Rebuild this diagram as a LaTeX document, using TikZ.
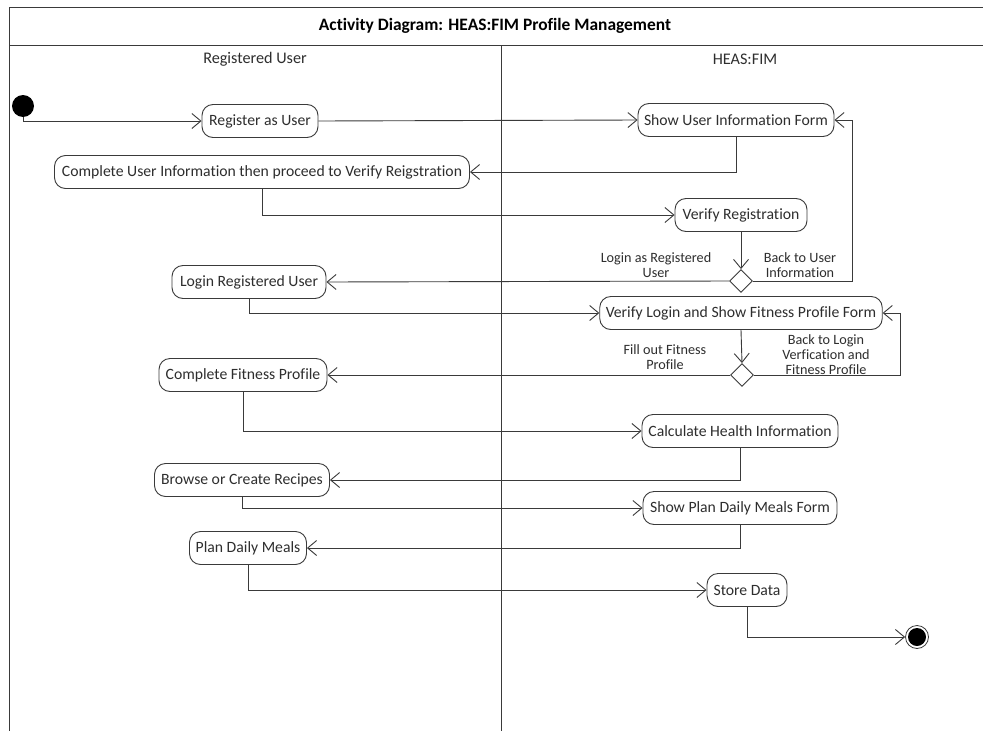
\documentclass[tikz,border=0pt]{standalone}
\usepackage{fontspec}
\setmainfont[Ligatures={NoCommon}]{Carlito}
\usetikzlibrary{arrows.meta,shapes.geometric}
\definecolor{ln}{HTML}{3A3A3A}
\definecolor{tx}{HTML}{2E2E2E}
\tikzset{
  act/.style={draw=ln, line width=0.9pt, rounded corners=11pt, minimum height=33pt,
    inner xsep=6pt, inner ysep=0pt, text=tx, font=\fontsize{15.7}{18}\selectfont, fill=white},
  dec/.style={draw=ln, line width=0.9pt, diamond, minimum width=23pt, minimum height=23pt,
    inner sep=0pt, fill=white},
  flow/.style={draw=ln, line width=0.9pt, -{Straight Barb[length=9pt,width=15pt,line width=0.9pt]}},
  guard/.style={text=tx, align=center, font=\fontsize{14.2}{15}\selectfont, inner sep=0pt},
  lane/.style={text=tx, font=\fontsize{16.2}{18}\selectfont},
  frameline/.style={draw=ln, line width=1pt}
}
\begin{document}
\begin{tikzpicture}[x=1pt,y=-1pt]
\useasboundingbox (0,0) rectangle (983,731);
\fill[white] (0,0) rectangle (983,731);
% frame
\draw[frameline] (983,7) -- (9,7) -- (9,731);
\draw[frameline] (9,45) -- (983,45);
\draw[frameline] (501,45) -- (501,731);
\node[text=black, font=\bfseries\fontsize{17.4}{19}\selectfont] (title) at (495,26) {Activity Diagram: HEAS:FIM Profile Management};
\node[lane] (laneA) at (255,59) {Registered User};
\node[lane] (laneB) at (745,59) {HEAS:FIM};
% start / end
\node[circle, fill=black, minimum size=22pt, inner sep=0pt] (start) at (23,106) {};
\node[circle, draw=ln, line width=0.8pt, minimum size=23pt, inner sep=0pt] (fin) at (917,637) {};
\fill[black] (fin.center) circle (9pt);
% activities
\node[act, minimum width=116pt] (reg) at (260,121) {Register as User};
\node[act, minimum width=196pt] (sui) at (736,120) {Show User Information Form};
\node[act, minimum width=415pt] (cui) at (262,172) {Complete User Information then proceed to Verify Reigstration};
\node[act, minimum width=132pt] (vr) at (741,215) {Verify Registration};
\node[dec] (d1) at (741,281) {};
\node[act, minimum width=154pt] (lru) at (249,282) {Login Registered User};
\node[act, minimum width=282pt] (vl) at (741,313) {Verify Login and Show Fitness Profile Form};
\node[dec] (d2) at (742,375) {};
\node[act, minimum width=168pt] (cfp) at (243,375) {Complete Fitness Profile};
\node[act, minimum width=196pt] (chi) at (740,431) {Calculate Health Information};
\node[act, minimum width=175pt] (bcr) at (242,480) {Browse or Create Recipes};
\node[act, minimum width=194pt] (spd) at (740,508) {Show Plan Daily Meals Form};
\node[act, minimum width=117pt] (pdm) at (248,548) {Plan Daily Meals};
\node[act, minimum width=80pt] (sd) at (747,590) {Store Data};
% guards
\node[guard] (g1) at (656,265) {Login as Registered\\User};
\node[guard] (g2) at (800,265) {Back to User\\Information};
\node[guard] (g3) at (665,357) {Fill out Fitness\\Profile};
\node[guard] (g4) at (826,355) {Back to Login\\Verfication and\\Fitness Profile};
% helper corners
\coordinate (c1) at (852,281);
\coordinate (c2) at (900,375);
% flows
\draw[flow] (start.south) |- (reg.west);
\draw[flow] (reg.east) -- (sui.west);
\draw[flow] (sui.south) |- (cui.east);
\draw[flow] (cui.south) |- (vr.west);
\draw[flow] (vr.south) -- (d1.north);
\draw[flow] (d1.west) -- (lru.east);
\draw[flow] (d1.east) -- (c1) |- (sui.east);
\draw[flow] (lru.south) |- (vl.west);
\draw[flow] (vl.south) -- (d2.north);
\draw[flow] (d2.west) -- (cfp.east);
\draw[flow] (d2.east) -- (c2) |- (vl.east);
\draw[flow] (cfp.south) |- (chi.west);
\draw[flow] (chi.south) |- (bcr.east);
\draw[flow] (bcr.south) |- (spd.west);
\draw[flow] (spd.south) |- (pdm.east);
\draw[flow] (pdm.south) |- (sd.west);
\draw[flow] (sd.south) |- (fin.west);
\end{tikzpicture}
\end{document}
